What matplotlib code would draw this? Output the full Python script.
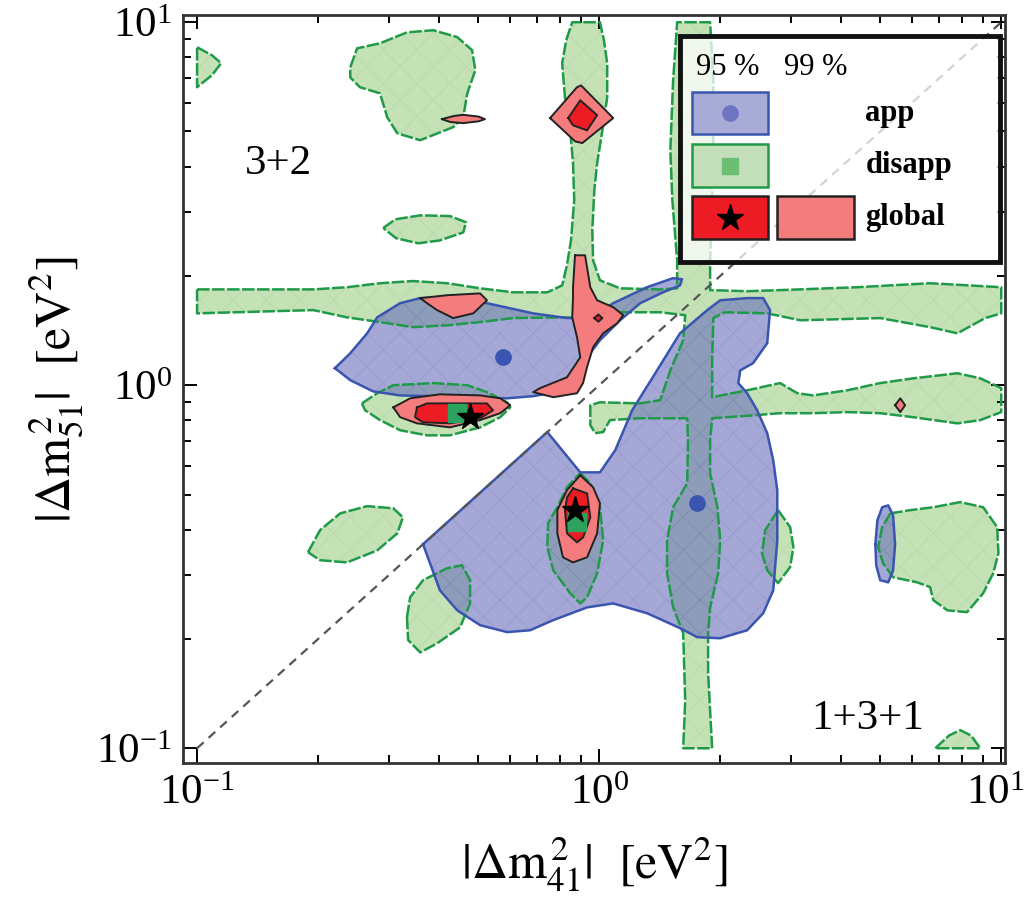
import matplotlib
matplotlib.use("Agg")
import matplotlib.pyplot as plt
import matplotlib.transforms as mtransforms
import numpy as np
from matplotlib.patches import Rectangle

plt.rcParams['font.family'] = ['serif']
plt.rcParams['font.serif'] = ['Liberation Serif', 'DejaVu Serif']
plt.rcParams['mathtext.fontset'] = 'stix'
plt.rcParams['hatch.linewidth'] = 0.6

# contour outlines, vertices given as (log10 dm41^2, log10 dm51^2)
disapp_95 = [
    # connected band structure
    [(-1.000, 0.264), (-0.711, 0.264), (-0.627, 0.270), (-0.545, 0.281), (-0.463, 0.287),
     (-0.378, 0.281), (-0.296, 0.267), (-0.214, 0.256), (-0.129, 0.256), (-0.092, 0.275),
     (-0.080, 0.331), (-0.070, 0.399), (-0.062, 0.510), (-0.065, 0.612), (-0.072, 0.702),
     (-0.085, 0.793), (-0.092, 0.887), (-0.082, 0.950), (-0.067, 1.000),
     (0.002, 1.000), (0.012, 0.950), (0.020, 0.887), (0.020, 0.793), (0.008, 0.702),
     (-0.005, 0.612), (-0.012, 0.537), (-0.017, 0.427), (-0.015, 0.344), (0.002, 0.289),
     (0.052, 0.267), (0.152, 0.264), (0.194, 0.267),
     (0.194, 0.344), (0.182, 0.510), (0.177, 0.647), (0.184, 0.840), (0.194, 1.000),
     (0.276, 1.000), (0.284, 0.840), (0.284, 0.647), (0.281, 0.510), (0.276, 0.344),
     (0.276, 0.262),
     (0.368, 0.259), (0.450, 0.262), (0.642, 0.270), (0.823, 0.281), (1.000, 0.270),
     (1.000, 0.198), (0.960, 0.185), (0.891, 0.143), (0.823, 0.160), (0.699, 0.185),
     (0.500, 0.179), (0.418, 0.198), (0.313, 0.201), (0.284, 0.185), (0.281, 0.069),
     (0.281, -0.033),
     (0.368, -0.014), (0.450, 0.006), (0.493, -0.022), (0.532, -0.028), (0.617, -0.014),
     (0.699, 0.006), (0.781, 0.019), (0.891, 0.033), (0.948, 0.019), (1.000, -0.008),
     (1.000, -0.074), (0.948, -0.096), (0.891, -0.105), (0.781, -0.088), (0.699, -0.077),
     (0.617, -0.074), (0.532, -0.077), (0.450, -0.077), (0.383, -0.083), (0.281, -0.091),
     (0.276, -0.152), (0.276, -0.242), (0.294, -0.336), (0.301, -0.427), (0.296, -0.518),
     (0.276, -0.612), (0.271, -0.683), (0.271, -0.793), (0.281, -1.000),
     (0.209, -1.000), (0.214, -0.868), (0.209, -0.683), (0.184, -0.612), (0.169, -0.518),
     (0.169, -0.427), (0.184, -0.336), (0.219, -0.270), (0.221, -0.152), (0.219, -0.091),
     (0.102, -0.091), (0.027, -0.096), (0.010, -0.129), (-0.010, -0.132), (-0.022, -0.110),
     (-0.022, -0.055), (0.002, -0.047), (0.102, -0.050), (0.152, -0.041), (0.177, 0.041),
     (0.209, 0.124), (0.214, 0.193),
     (0.152, 0.201), (0.077, 0.201), (0.002, 0.201), (-0.047, 0.185), (-0.090, 0.187),
     (-0.214, 0.185), (-0.296, 0.174), (-0.378, 0.165), (-0.463, 0.160), (-0.545, 0.174),
     (-0.627, 0.187), (-0.711, 0.207), (-1.000, 0.198)],
    # top-left corner
    [(-1.000, 0.931), (-0.963, 0.909), (-0.940, 0.887), (-0.963, 0.854), (-1.000, 0.821)],
    # upper blob
    [(-0.619, 0.876), (-0.602, 0.928), (-0.545, 0.942), (-0.478, 0.972), (-0.413, 0.978),
     (-0.353, 0.959), (-0.316, 0.923), (-0.308, 0.868), (-0.328, 0.804), (-0.338, 0.738),
     (-0.363, 0.711), (-0.445, 0.675), (-0.502, 0.694), (-0.527, 0.738), (-0.545, 0.804),
     (-0.595, 0.821), (-0.619, 0.848)],
    # small ellipse below it
    [(-0.537, 0.433), (-0.507, 0.457), (-0.445, 0.468), (-0.371, 0.466), (-0.331, 0.449),
     (-0.338, 0.421), (-0.396, 0.399), (-0.450, 0.391), (-0.505, 0.405)],
    # around the first global minimum
    [(-0.590, -0.050), (-0.552, -0.022), (-0.512, 0.000), (-0.413, 0.006), (-0.328, 0.000),
     (-0.279, -0.019), (-0.229, -0.047), (-0.221, -0.061), (-0.246, -0.088), (-0.296, -0.116),
     (-0.371, -0.138), (-0.428, -0.138), (-0.495, -0.124), (-0.545, -0.096), (-0.582, -0.069)],
    # around the second global minimum
    [(-0.047, -0.242), (-0.022, -0.270), (0.002, -0.336), (0.010, -0.427), (-0.005, -0.518),
     (-0.030, -0.584), (-0.047, -0.601), (-0.072, -0.573), (-0.114, -0.510), (-0.129, -0.446),
     (-0.127, -0.380), (-0.104, -0.336), (-0.080, -0.281)],
    # lower left islands
    [(-0.724, -0.460), (-0.694, -0.399), (-0.644, -0.353), (-0.577, -0.333), (-0.512, -0.339),
     (-0.488, -0.364), (-0.502, -0.408), (-0.552, -0.455), (-0.627, -0.488), (-0.694, -0.482)],
    [(-0.478, -0.639), (-0.470, -0.584), (-0.438, -0.537), (-0.378, -0.504), (-0.341, -0.496),
     (-0.321, -0.537), (-0.321, -0.601), (-0.346, -0.667), (-0.403, -0.711), (-0.445, -0.736),
     (-0.475, -0.702)],
    # right islands
    [(0.445, -0.344), (0.475, -0.391), (0.483, -0.446), (0.475, -0.501), (0.445, -0.545),
     (0.418, -0.510), (0.405, -0.463), (0.413, -0.399)],
    [(0.724, -0.353), (0.774, -0.344), (0.831, -0.336), (0.898, -0.322), (0.955, -0.336),
     (0.990, -0.391), (0.993, -0.463), (0.980, -0.518), (0.955, -0.573), (0.915, -0.625),
     (0.866, -0.620), (0.831, -0.592), (0.823, -0.556), (0.791, -0.543), (0.731, -0.529),
     (0.706, -0.490), (0.694, -0.446), (0.704, -0.391)],
    [(0.836, -1.000), (0.870, -0.965), (0.898, -0.950), (0.925, -0.965), (0.948, -1.000)],
]

app_95 = [
    [(-0.657, 0.047), (-0.619, 0.088), (-0.577, 0.143), (-0.552, 0.187), (-0.495, 0.226),
     (-0.445, 0.240), (-0.371, 0.242), (-0.279, 0.226), (-0.164, 0.198), (-0.080, 0.185),
     (-0.022, 0.185), (0.035, 0.226), (0.119, 0.270), (0.184, 0.295), (0.206, 0.292),
     (0.201, 0.275), (0.159, 0.256), (0.102, 0.226), (0.052, 0.179), (0.002, 0.124),
     (-0.030, 0.077), (-0.072, 0.019), (-0.122, -0.022), (-0.164, -0.030), (-0.229, -0.036),
     (-0.321, -0.036), (-0.420, -0.030), (-0.495, -0.028), (-0.562, -0.017), (-0.619, 0.014)],
    [(-0.438, -0.438), (-0.129, -0.129), (-0.047, -0.240), (0.002, -0.240), (0.040, -0.179),
     (0.082, -0.069), (0.144, 0.041), (0.201, 0.143), (0.269, 0.207), (0.301, 0.234),
     (0.368, 0.240), (0.408, 0.240), (0.425, 0.207), (0.418, 0.116), (0.383, 0.061),
     (0.351, 0.041), (0.346, 0.006), (0.368, -0.022), (0.393, -0.069), (0.418, -0.132),
     (0.433, -0.207), (0.443, -0.289), (0.443, -0.427), (0.433, -0.565), (0.408, -0.628),
     (0.368, -0.675), (0.301, -0.697), (0.244, -0.694), (0.201, -0.669), (0.119, -0.628),
     (0.035, -0.601), (-0.030, -0.612), (-0.114, -0.647), (-0.172, -0.675), (-0.229, -0.680),
     (-0.296, -0.661), (-0.353, -0.620), (-0.396, -0.565)],
    [(0.687, -0.438), (0.692, -0.372), (0.704, -0.336), (0.719, -0.331), (0.731, -0.358),
     (0.736, -0.438), (0.731, -0.510), (0.719, -0.543), (0.699, -0.537), (0.689, -0.496)],
]

global_99 = [
    [(-0.122, 0.736), (-0.055, 0.821), (-0.045, 0.826), (0.035, 0.736), (-0.042, 0.667),
     (-0.060, 0.672)],
    [(-0.391, 0.733), (-0.360, 0.742), (-0.338, 0.745), (-0.300, 0.740), (-0.284, 0.733),
     (-0.300, 0.727), (-0.338, 0.722), (-0.370, 0.725)],
    [(-0.445, 0.240), (-0.378, 0.248), (-0.296, 0.253), (-0.279, 0.234), (-0.313, 0.198),
     (-0.363, 0.185), (-0.403, 0.207), (-0.428, 0.226)],
    [(-0.060, 0.358), (-0.065, 0.270), (-0.065, 0.242), (-0.067, 0.187), (-0.055, 0.132),
     (-0.047, 0.077), (-0.080, 0.022), (-0.147, -0.008), (-0.164, -0.019), (-0.114, -0.033),
     (-0.055, -0.022), (-0.040, 0.006), (-0.030, 0.050), (-0.015, 0.105), (0.010, 0.143),
     (0.045, 0.171), (0.060, 0.193), (0.035, 0.215), (-0.005, 0.234), (-0.022, 0.270),
     (-0.035, 0.358)],
    [(-0.512, -0.061), (-0.470, -0.036), (-0.396, -0.025), (-0.296, -0.028), (-0.246, -0.036),
     (-0.221, -0.055), (-0.246, -0.077), (-0.296, -0.096), (-0.371, -0.116), (-0.453, -0.105),
     (-0.495, -0.088)],
    [(-0.047, -0.248), (-0.015, -0.281), (0.002, -0.325), (-0.005, -0.408), (-0.030, -0.474),
     (-0.065, -0.488), (-0.090, -0.474), (-0.104, -0.408), (-0.104, -0.344), (-0.080, -0.289)],
    [(0.736, -0.055), (0.749, -0.036), (0.761, -0.055), (0.749, -0.074)],
]

global_95 = [
    [(-0.077, 0.736), (-0.047, 0.785), (-0.005, 0.744), (-0.030, 0.702), (-0.065, 0.716)],
    [(-0.012, 0.185), (-0.002, 0.195), (0.008, 0.185), (-0.002, 0.175)],
    [(-0.453, -0.061), (-0.428, -0.050), (-0.279, -0.050), (-0.264, -0.069), (-0.296, -0.091),
     (-0.371, -0.105), (-0.438, -0.102), (-0.458, -0.088)],
    [(-0.065, -0.284), (-0.030, -0.298), (-0.022, -0.364), (-0.040, -0.419), (-0.055, -0.433),
     (-0.080, -0.408), (-0.085, -0.344), (-0.080, -0.309)],
]

# best fit points (dm41^2, dm51^2) in eV^2
app_best_x, app_best_y = [0.577, 1.754], [1.194, 0.473]
disapp_best_x, disapp_best_y = [0.443, 0.881], [0.838, 0.420]
global_best_x, global_best_y = [0.478, 0.871], [0.817, 0.453]

GREEN_FACE = '#c4e2b6'
GREEN_EDGE = '#1f9a48'
BLUE_FACE = '#696ebc'
BLUE_EDGE = '#3a55b0'
RED_95 = '#ed1c24'
RED_99 = '#f47c7c'


def draw_region(ax, verts, face, edge, lw, ls='-', alpha=1.0, zfill=1, zedge=1.5, mesh=None):
    p = 10 ** np.asarray(verts)
    ax.fill(p[:, 0], p[:, 1], facecolor=face, edgecolor='none', alpha=alpha, zorder=zfill)
    if mesh is not None:
        # faint grid texture inside the region
        ax.fill(p[:, 0], p[:, 1], facecolor='none', edgecolor=mesh, hatch='x', lw=0,
                zorder=zfill + 0.05)
    p = np.vstack([p, p[:1]])
    ax.plot(p[:, 0], p[:, 1], color=edge, lw=lw, ls=ls, zorder=zedge)


fig = plt.figure(figsize=(10.24, 9.01), dpi=100)
ax = fig.add_axes([0.1787, 0.153, 0.803, 0.830])

for v in disapp_95:
    draw_region(ax, v, GREEN_FACE, GREEN_EDGE, 1.8, ls=(0, (5, 1)), zfill=1, zedge=2.5,
                mesh=(0.3, 0.6, 0.3, 0.10))
for v in app_95:
    draw_region(ax, v, BLUE_FACE, BLUE_EDGE, 1.8, alpha=0.6, zfill=2, zedge=2.6,
                mesh=(0.2, 0.2, 0.6, 0.12))
for v in global_99:
    draw_region(ax, v, RED_99, '#222222', 1.4, zfill=4, zedge=4.1)
for v in global_95:
    draw_region(ax, v, RED_95, '#222222', 1.4, zfill=4.2, zedge=4.3)

ax.plot([0.1, 10], [0.1, 10], color='#555555', lw=1.6, ls=(0, (4, 3)), zorder=3)

ax.plot(app_best_x, app_best_y, 'o', color=BLUE_EDGE, ms=11, zorder=5)
ax.plot(disapp_best_x, disapp_best_y, 's', color='#2ca25f', ms=13, zorder=5)
ax.plot(global_best_x, global_best_y, '*', color='black', ms=20, zorder=6)

ax.set_xscale('log')
ax.set_yscale('log')
ax.set_xlim(10 ** -1.035, 10 ** 1.010)
ax.set_ylim(10 ** -1.041, 10 ** 1.019)

ax.text(0.116, 0.802, '3+2', transform=ax.transAxes, fontsize=31, ha='center', va='center')
ax.text(0.833, 0.060, '1+3+1', transform=ax.transAxes, fontsize=31, ha='center', va='center')

ax.set_xlabel(r'$|\Delta\mathrm{m}_{41}^{\,2}|\ \ [\mathrm{eV}^2]$', fontsize=36, labelpad=16)
ax.set_ylabel(r'$|\Delta\mathrm{m}_{51}^{\,2}|\ \ [\mathrm{eV}^2]$', fontsize=36, labelpad=8)

ax.tick_params(which='both', direction='in', top=True, right=True, labelsize=31, width=1.4)
ax.tick_params(which='major', length=10, pad=8)
ax.tick_params(which='minor', length=6)
for s in ax.spines.values():
    s.set_linewidth(2)
    s.set_color('#333333')

# keep the rightmost x tick label inside the figure
fig.canvas.draw()
last = ax.get_xticklabels()[-1]
for lab in ax.get_xticklabels():
    if lab.get_position()[0] >= 9.9:
        lab.set_transform(lab.get_transform() +
                          mtransforms.ScaledTranslation(-0.06, 0, fig.dpi_scale_trans))

# legend box
tr = ax.transAxes
ax.add_patch(Rectangle((0.605, 0.670), 0.389, 0.303, transform=tr, fc=(1, 1, 1, 0.75),
                       ec='#111111', lw=3.5, zorder=10))
ax.text(0.663, 0.930, '95 %', transform=tr, fontsize=22, ha='center', va='center', zorder=11)
ax.text(0.770, 0.930, '99 %', transform=tr, fontsize=22, ha='center', va='center', zorder=11)
rows = [(0.869, (0.66, 0.67, 0.84), BLUE_EDGE, 'app'),
        (0.799, (0.77, 0.88, 0.73), GREEN_EDGE, 'disapp'),
        (0.729, RED_95, '#222222', 'global')]
for yc, fc, ec, name in rows:
    ax.add_patch(Rectangle((0.619, yc - 0.028), 0.093, 0.057, transform=tr, fc=fc, ec=ec,
                           lw=1.8, zorder=11))
    ax.text(0.830, yc, name, transform=tr, fontsize=22, fontweight='bold',
            ha='left', va='center', zorder=11)
ax.add_patch(Rectangle((0.723, 0.729 - 0.028), 0.093, 0.057, transform=tr, fc=RED_99,
                       ec='#222222', lw=1.8, zorder=11))
ax.plot([0.665], [0.869], 'o', color='#6f74c4', ms=11, transform=tr, zorder=12)
ax.plot([0.665], [0.799], 's', color='#6abf72', ms=11, transform=tr, zorder=12)
ax.plot([0.665], [0.729], '*', color='black', ms=20, transform=tr, zorder=12)

fig.savefig('out.png', dpi=100)
